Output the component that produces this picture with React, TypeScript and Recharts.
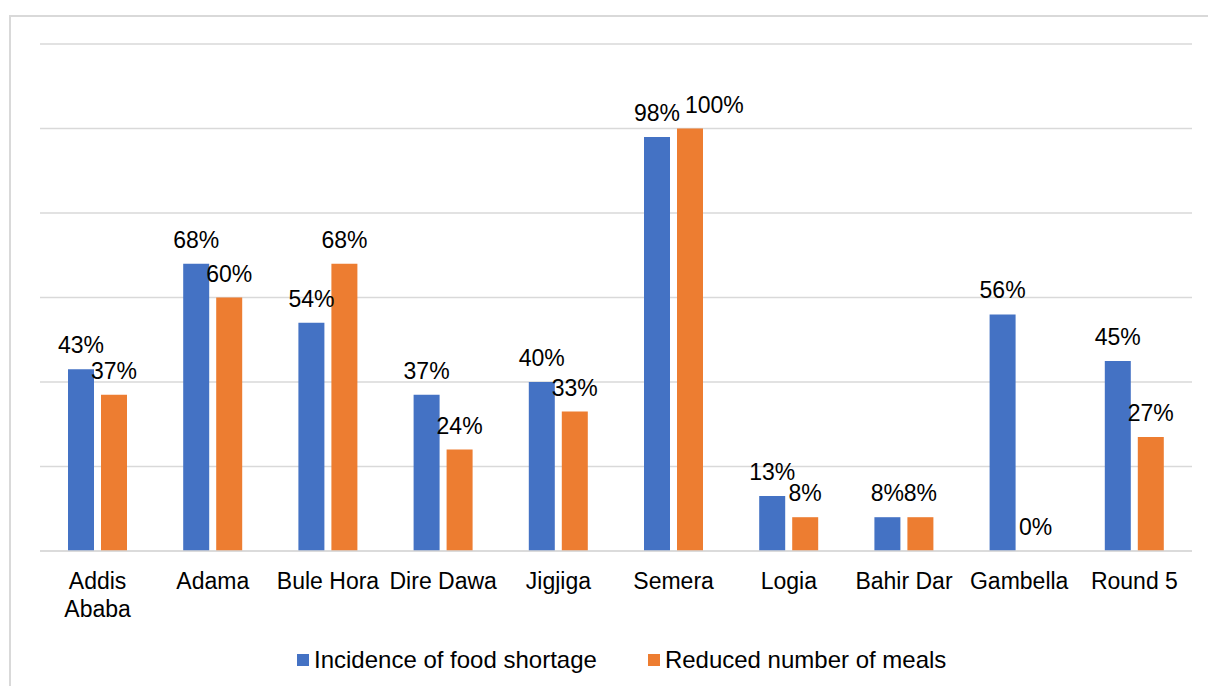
import React from "react";
import { Bar, BarChart, CartesianGrid, LabelList, Legend, Rectangle, XAxis, YAxis } from "recharts";

const categories = [
  "Addis Ababa",
  "Adama",
  "Bule Hora",
  "Dire Dawa",
  "Jigjiga",
  "Semera",
  "Logia",
  "Bahir Dar",
  "Gambella",
  "Round 5",
];
const foodShortage = [43, 68, 54, 37, 40, 98, 13, 8, 56, 45];
const reducedMeals = [37, 60, 68, 24, 33, 100, 8, 8, 0, 27];
const yTicks = [0, 20, 40, 60, 80, 100, 120];

const BLUE = "#4472C4";
const ORANGE = "#ED7D31";
const GRID = "#d9d9d9";
const FONT = "'Liberation Sans', Arial, sans-serif";
const LABEL_SIZE = 23;
const TICK_SIZE = 23;
const BAR_GAP = 7;

const data = categories.map((name, i) => ({
  name,
  shortage: foodShortage[i],
  meals: reducedMeals[i],
}));

let ctx: CanvasRenderingContext2D | null = null;
function measure(s: string, size: number) {
  if (!ctx) ctx = document.createElement("canvas").getContext("2d");
  if (!ctx) return s.length * size * 0.55;
  ctx.font = `${size}px 'Liberation Sans', Arial, sans-serif`;
  return ctx.measureText(s).width;
}

function wrap(s: string, maxWidth: number) {
  const words = s.split(" ");
  const lines: string[] = [];
  let cur = "";
  for (const w of words) {
    const next = cur ? `${cur} ${w}` : w;
    if (cur && measure(next, TICK_SIZE) > maxWidth) {
      lines.push(cur);
      cur = w;
    } else cur = next;
  }
  if (cur) lines.push(cur);
  return lines;
}

function CategoryTick(props: any) {
  const { x, y, payload } = props;
  const lines = wrap(String(payload.value), 112);
  return (
    <text x={x} y={y + 30} textAnchor="middle" fontSize={TICK_SIZE} fontFamily={FONT} fill="#000">
      {lines.map((l, i) => (
        <tspan key={i} x={x} dy={i === 0 ? 0 : 28}>
          {l}
        </tspan>
      ))}
    </text>
  );
}

// zero-value bars draw nothing but keep their slot so the label still shows
function BarShape(props: any) {
  if (!props.value) return null;
  return <Rectangle {...props} />;
}

// second-series labels get nudged right when they would collide with the first series' label
function makeLabel(second: boolean) {
  return (props: any) => {
    const { x, y, width, index, value } = props;
    let dx = 0;
    if (second) {
      const other = foodShortage[index];
      const overlap =
        measure(`${other}%`, LABEL_SIZE) / 2 + measure(`${value}%`, LABEL_SIZE) / 2 - (width + BAR_GAP);
      if (Math.abs(other - value) < 5 && overlap > 2) dx = overlap + 5;
    }
    return (
      <text
        x={x + width / 2 + dx}
        y={y - 16}
        textAnchor="middle"
        fontSize={LABEL_SIZE}
        fontFamily={FONT}
        fill="#000"
      >
        {`${value}%`}
      </text>
    );
  };
}

function LegendContent() {
  const items = [
    { label: "Incidence of food shortage", color: BLUE },
    { label: "Reduced number of meals", color: ORANGE },
  ];
  return (
    <div
      style={{
        height: 52,
        display: "flex",
        alignItems: "center",
        paddingLeft: 297,
        boxSizing: "border-box",
        fontFamily: FONT,
        fontSize: 24,
        color: "#000",
      }}
    >
      {items.map((it, i) => (
        <div key={it.label} style={{ display: "flex", alignItems: "center", marginRight: i === 0 ? 51 : 0 }}>
          <span style={{ width: 12, height: 12, background: it.color, marginRight: 5, display: "inline-block" }} />
          <span>{it.label}</span>
        </div>
      ))}
    </div>
  );
}

export default function App() {
  return (
    <div
      style={{
        position: "absolute",
        left: 0,
        top: 0,
        width: 1208,
        height: 686,
        overflow: "hidden",
        background: "#fff",
      }}
    >
      <div
        style={{
          position: "absolute",
          left: 9,
          top: 15,
          width: 1300,
          height: 800,
          border: `2px solid ${GRID}`,
        }}
      />
      <div style={{ position: "absolute", left: 0, top: 0 }}>
        <BarChart
          width={1208}
          height={686}
          data={data}
          margin={{ top: 44, right: 16, left: 40, bottom: 0 }}
          barSize={26}
          barGap={BAR_GAP}
        >
          <CartesianGrid vertical={false} stroke={GRID} strokeWidth={1.5} />
          <XAxis
            dataKey="name"
            height={83}
            axisLine={{ stroke: GRID, strokeWidth: 1.5 }}
            tickLine={false}
            tick={<CategoryTick />}
            interval={0}
          />
          <YAxis hide domain={[0, 120]} ticks={yTicks} />
          <Legend
            verticalAlign="bottom"
            content={<LegendContent />}
            wrapperStyle={{ left: 0, width: 1208 }}
          />
          <Bar
            dataKey="shortage"
            name="Incidence of food shortage"
            fill={BLUE}
            shape={<BarShape />}
            minPointSize={(v: number) => (v === 0 ? 0.01 : 0)}
            isAnimationActive={false}
          >
            <LabelList dataKey="shortage" content={makeLabel(false)} />
          </Bar>
          <Bar
            dataKey="meals"
            name="Reduced number of meals"
            fill={ORANGE}
            shape={<BarShape />}
            minPointSize={(v: number) => (v === 0 ? 0.01 : 0)}
            isAnimationActive={false}
          >
            <LabelList dataKey="meals" content={makeLabel(true)} />
          </Bar>
        </BarChart>
      </div>
    </div>
  );
}
